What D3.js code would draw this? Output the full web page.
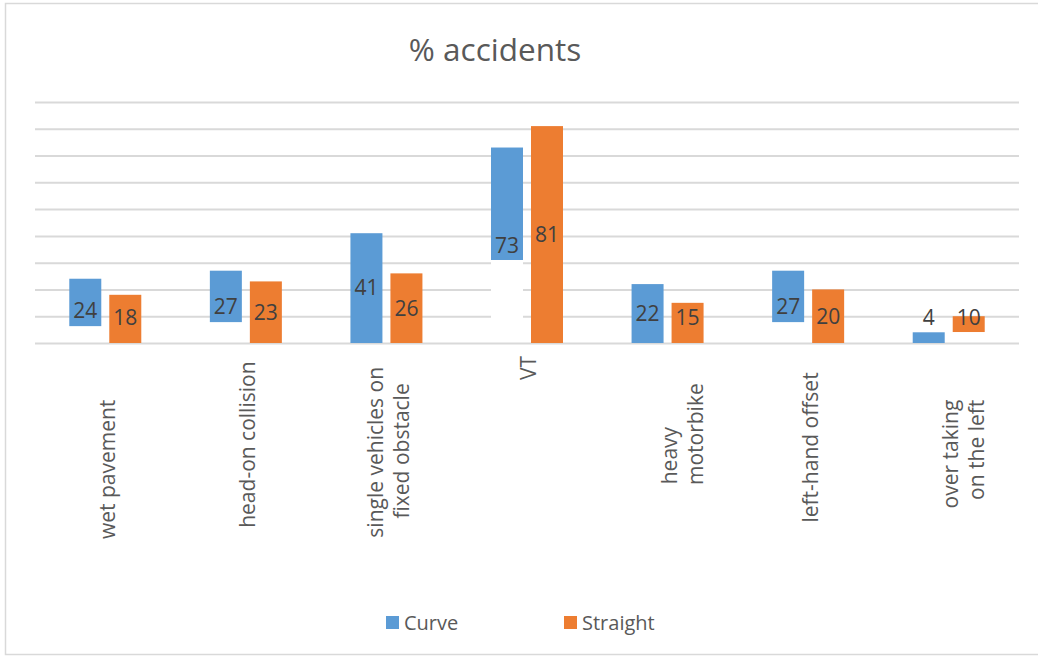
<!DOCTYPE html>
<html>
<head>
<meta charset="utf-8">
<script src="https://cdn.jsdelivr.net/npm/d3@7"></script>
<style>
  html, body { margin: 0; padding: 0; background: #fff; }
  svg { display: block; }
  text { font-family: "Open Sans", "Noto Sans", sans-serif; }
</style>
</head>
<body>
<svg id="chart" width="1038" height="659"></svg>
<script>
// ---- data ----
const categories = ["wet pavement", "head-on collision", "single vehicles on fixed obstacle", "VT",
                    "heavy motorbike", "left-hand offset", "over taking on the left"];
// category label lines as they appear (including the original trailing spaces / blank wrap line)
const categoryLines = [
  ["wet pavement        "],
  ["head-on collision "],
  ["single vehicles on  ", "fixed obstacle     "],
  ["VT"],
  ["", "heavy             ", "motorbike     "],
  ["left-hand offset   "],
  ["", "over taking        ", "on the left        "]
];
const seriesNames = ["Curve", "Straight"];
const curveValues = [24, 27, 41, 73, 22, 27, 4];
const straightValues = [18, 23, 26, 81, 15, 20, 10];
// visible lower edge of each bar (the original rendering leaves the bar base blank)
const curveBase = [6.3, 7.8, 0, 31, 0, 7.8, 0];
const straightBase = [0, 0, 0, 0, 0, 0, 4.1];
const yTicks = [0, 10, 20, 30, 40, 50, 60, 70, 80, 90];
const title = "% accidents";

const colors = { Curve: "#5B9BD5", Straight: "#ED7D31" };

// ---- layout ----
const svg = d3.select("#chart");
const W = 1038, H = 659;
const plot = { left: 35, right: 1019, top: 102, bottom: 343 };

// chart border
svg.append("rect").attr("x", 5.5).attr("y", 3.5).attr("width", 1040).attr("height", 651)
  .attr("fill", "#fff").attr("stroke", "#D9D9D9").attr("stroke-width", 1.5);

// title
svg.append("text").attr("x", 495).attr("y", 61).attr("text-anchor", "middle")
  .attr("font-size", 31.5).attr("fill", "#595959").text(title);

const x0 = d3.scaleBand().domain(categories).range([plot.left, plot.right])
  .paddingInner(1 - 72 / 140.57).paddingOuter((1 - 72 / 140.57) / 2);
const x1 = d3.scaleBand().domain(seriesNames).range([0, x0.bandwidth()]).paddingInner(0.2);
const y = d3.scaleLinear().domain([0, 90]).range([plot.bottom, plot.top]);

// gridlines via axis
const grid = svg.append("g").attr("transform", `translate(${plot.left},0)`)
  .call(d3.axisLeft(y).tickValues(yTicks).tickSize(-(plot.right - plot.left)).tickFormat(""));
grid.select(".domain").remove();
grid.selectAll("line").attr("stroke", "#D9D9D9").attr("stroke-width", 2);

const rows = categories.map((c, i) => ({
  cat: c, i,
  vals: [
    { s: "Curve", v: curveValues[i], b: curveBase[i] },
    { s: "Straight", v: straightValues[i], b: straightBase[i] }
  ]
}));

const groups = svg.append("g").selectAll("g").data(rows).join("g")
  .attr("transform", d => `translate(${x0(d.cat)},0)`);

// blank base region (hides gridlines under the missing part of the bar)
groups.selectAll("rect.mask").data(d => d.vals.filter(v => v.b > 0)).join("rect")
  .attr("class", "mask")
  .attr("x", d => x1(d.s)).attr("width", x1.bandwidth())
  .attr("y", d => y(d.b)).attr("height", d => y(0) - 1.5 - y(d.b))
  .attr("fill", "#fff");

groups.selectAll("rect.bar").data(d => d.vals).join("rect")
  .attr("class", "bar")
  .attr("x", d => x1(d.s)).attr("width", x1.bandwidth())
  .attr("y", d => y(d.v)).attr("height", d => y(d.b) - y(d.v))
  .attr("fill", d => colors[d.s]);

groups.selectAll("text.val").data(d => d.vals).join("text")
  .attr("class", "val")
  .attr("x", d => x1(d.s) + x1.bandwidth() / 2)
  .attr("y", d => Math.min(y(d.v / 2), y(0) - 25))
  .attr("dy", "0.35em")
  .attr("text-anchor", "middle").attr("font-size", 21).attr("fill", "#404040")
  .text(d => d.v);

// category labels, rotated
const labelTop = plot.bottom + 13;
const lineGap = 26;
const catG = svg.append("g");
rows.forEach(r => {
  const lines = categoryLines[r.i];
  const cx = x0(r.cat) + x0.bandwidth() / 2 + 2;
  lines.forEach((ln, j) => {
    const lx = cx + (j - (lines.length - 1) / 2) * lineGap;
    catG.append("text")
      .attr("transform", `translate(${lx},${labelTop}) rotate(-90)`)
      .attr("text-anchor", "end")
      .attr("dy", "0.35em")
      .attr("xml:space", "preserve")
      .style("white-space", "pre")
      .attr("font-size", 21).attr("fill", "#595959")
      .text(ln);
  });
});

// legend
const legendItems = [{ s: "Curve", x: 386 }, { s: "Straight", x: 564 }];
const lg = svg.append("g");
legendItems.forEach(it => {
  lg.append("rect").attr("x", it.x).attr("y", 616).attr("width", 13).attr("height", 13)
    .attr("fill", colors[it.s]);
  lg.append("text").attr("x", it.x + 18).attr("y", 623).attr("dy", "0.35em")
    .attr("font-size", 20).attr("fill", "#595959").text(it.s);
});
</script>
</body>
</html>
